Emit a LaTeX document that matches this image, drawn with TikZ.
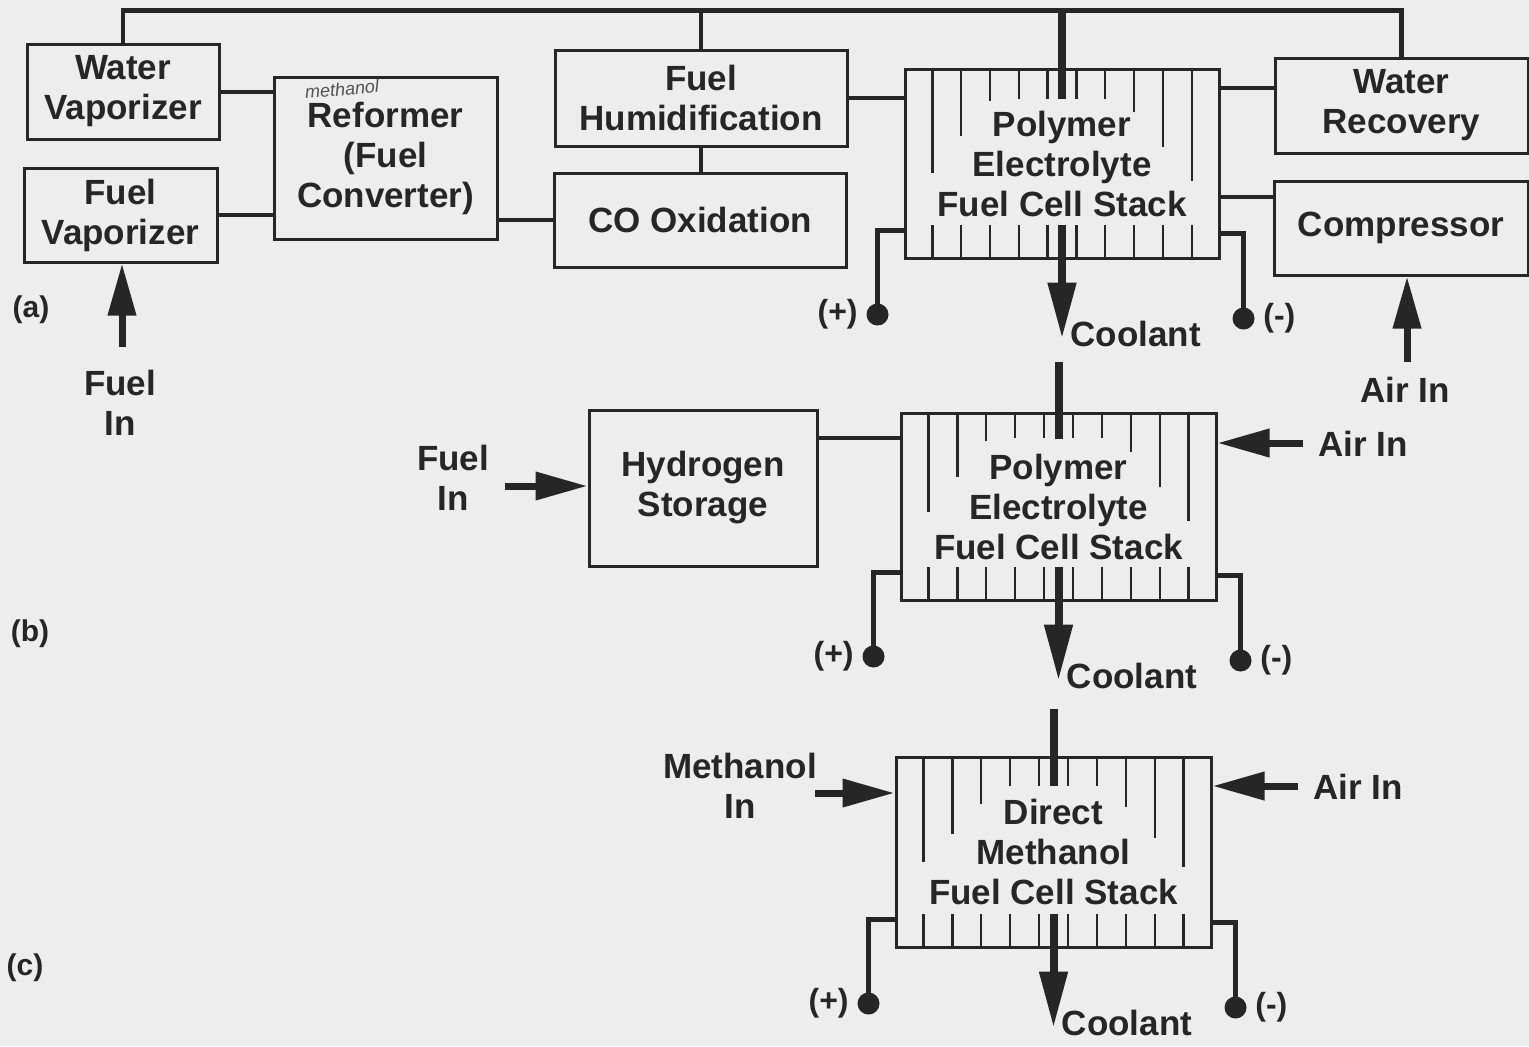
\documentclass[tikz,border=0pt]{standalone}
\usepackage{fontspec}
\setmainfont{Liberation Sans}
\usetikzlibrary{arrows.meta,calc,positioning}
\colorlet{ink}{black!85}
\colorlet{paper}{black!7}
\tikzset{
  font=\fontsize{17.5}{20}\selectfont\bfseries,
  box/.style={draw=ink, text=ink, line width=1.5pt, align=center, inner sep=2pt},
  cell/.style={draw=ink, line width=1.2pt},
  link/.style={draw=ink, line width=2pt},
  bus/.style={draw=ink, line width=2.2pt},
  cool/.style={draw=ink, line width=4pt},
  flow/.style={draw=ink, line width=3.5pt, -{Triangle[length=26pt 0 0, width=13.5pt 0 0]}},
  coolflow/.style={draw=ink, line width=4pt, -{Triangle[length=28pt 0 0, width=13.5pt 0 0]}},
  wire/.style={draw=ink, line width=2.5pt},
  dot/.style={circle, fill=ink, minimum size=11pt, inner sep=0pt},
  lab/.style={text=ink, align=center, inner sep=1pt},
  sml/.style={text=ink, font=\fontsize{16}{18}\selectfont\bfseries, inner sep=1pt},
  panel/.style={text=ink, font=\fontsize{15}{17}\selectfont\bfseries, inner sep=1pt},
  scrawl/.style={text=ink!80, font=\fontsize{9}{9}\selectfont\mdseries\itshape, inner sep=0pt},
}
\begin{document}
\begin{tikzpicture}[x=0.5pt,y=-0.5pt]
\fill[paper] (0,0) rectangle (1529,1046);
\useasboundingbox (0,0) rectangle (1529,1046);
% (a) reformer system
\node[box, minimum width=96pt, minimum height=47.5pt] (wvap) at (123,91.5) {Water\\Vaporizer};
\node[box, minimum width=96.5pt, minimum height=47pt] (fvap) at (120.5,215) {Fuel\\Vaporizer};
\node[box, minimum width=111.5pt, minimum height=81pt] (refm) at (385.5,158) {Reformer\\(Fuel\\Converter)};
\node[scrawl, rotate=5] (refnote) at (342,89) {methanol};
\node[box, minimum width=146pt, minimum height=48pt] (humid) at (701,98) {Fuel\\Humidification};
\node[box, minimum width=146pt, minimum height=47pt] (coox) at (700,220) {CO Oxidation};
\node[box, minimum width=157pt, minimum height=94.5pt] (stackA) at (1062,163.5) {Polymer\\Electrolyte\\Fuel Cell Stack};
\node[box, minimum width=126.5pt, minimum height=47.5pt] (wrec) at (1401.5,105.5) {Water\\Recovery};
\node[box, minimum width=127pt, minimum height=47pt] (comp) at (1401,228) {Compressor};
% (b) hydrogen storage
\node[box, minimum width=114pt, minimum height=78pt] (hstor) at (703,488) {Hydrogen\\Storage};
\node[box, minimum width=157.5pt, minimum height=93.5pt] (stackB) at (1058.5,506.5) {Polymer\\Electrolyte\\Fuel Cell Stack};
% (c) direct methanol
\node[box, minimum width=157.5pt, minimum height=95pt] (stackC) at (1053.5,852) {Direct\\Methanol\\Fuel Cell Stack};
% panel labels
\node[panel] (pa) at (31,310) {(a)};
\node[panel] (pb) at (30,634) {(b)};
\node[panel] (pc) at (25,968) {(c)};
% cells in the stacks
\foreach \s/\lens in {stackA/{105,68,33,31,31,31,31,44,79,113},
                      stackB/{100,65,29,26,26,26,26,40,75,109},
                      stackC/{106,78,48,30,30,30,30,51,82,111}}
  \foreach \l [count=\k] in \lens {
    \draw[cell] ($(\s.north west)!\k/11!(\s.north east)$) -- ++(0,\l);
    \draw[cell] ($(\s.south west)!\k/11!(\s.south east)$) -- ++(0,-35);
  }
% top bus
\draw[bus] (wvap.north) -- ++(0,-32) coordinate (busL) -| (wrec.north);
\draw[bus] (humid.north) -- (humid.north |- busL);
% links (a)
\draw[link] (wvap.east) -- (wvap.east -| refm.west);
\draw[link] (fvap.east) -- (fvap.east -| refm.west);
\draw[link] (coox.west -| refm.east) -- (coox.west);
\draw[link] (humid.south) -- (humid.south |- coox.north);
\draw[link] (humid.east) -- (humid.east -| stackA.west);
\draw[link] ($(wrec.west)+(0,-17.5)$) coordinate (wrA) -- (wrA -| stackA.east);
\draw[link] ($(comp.west)+(0,-31)$) coordinate (cpA) -- (cpA -| stackA.east);
% link (b)
\draw[link] ($(hstor.east)+(0,-50)$) coordinate (hsB) -- (hsB -| stackB.west);
% coolant in
\draw[cool] (stackA.north |- busL) -- ($(stackA.north)+(0,31)$);
\draw[cool] ($(stackB.north)+(0,-50)$) -- ($(stackB.north)+(0,27)$);
\draw[cool] ($(stackC.north)+(0,-47)$) -- ($(stackC.north)+(0,30)$);
% terminals and coolant out
\foreach \s in {stackA,stackB,stackC} {
  \draw[wire] ($(\s.south west)+(0,-29)$) -| ++(-26,84) node[dot] (\s-p) {};
  \draw[wire] ($(\s.south east)+(0,-26)$) -| ++(23,85) node[dot] (\s-m) {};
  \node[sml, left=2pt of \s-p] (\s-pl) {(+)};
  \node[sml, right=2pt of \s-m] (\s-ml) {(-)};
  \draw[coolflow] ($(\s.south)+(0,-35)$) -- ++(0,114) coordinate (\s-tip);
  \node[lab, anchor=west] (\s-cool) at ($(\s-tip)+(6,-5)$) {Coolant};
}
% inputs
\node[lab] (fuelA) at (120,403) {Fuel\\In};
\coordinate (fuelA-t) at (122,347);
\draw[flow] (fuelA-t) -- (fuelA-t |- fvap.south);
\node[lab] (airA) at (1405,390) {Air In};
\coordinate (airA-t) at (1407,362);
\draw[flow] (airA-t) -- (airA-t |- comp.south);
\node[lab] (fuelB) at (453,478) {Fuel\\In};
\coordinate (fuelB-t) at (505,486);
\draw[flow] (fuelB-t) -- (fuelB-t -| hstor.west);
\node[lab] (airB) at (1363,444) {Air In};
\coordinate (airB-t) at (1303,443);
\draw[flow] (airB-t) -- (airB-t -| stackB.east);
\node[lab] (methC) at (740,786) {Methanol\\In};
\coordinate (methC-t) at (815,793);
\draw[flow] (methC-t) -- (methC-t -| stackC.west);
\node[lab] (airC) at (1358,787) {Air In};
\coordinate (airC-t) at (1298,786);
\draw[flow] (airC-t) -- (airC-t -| stackC.east);
\end{tikzpicture}
\end{document}
